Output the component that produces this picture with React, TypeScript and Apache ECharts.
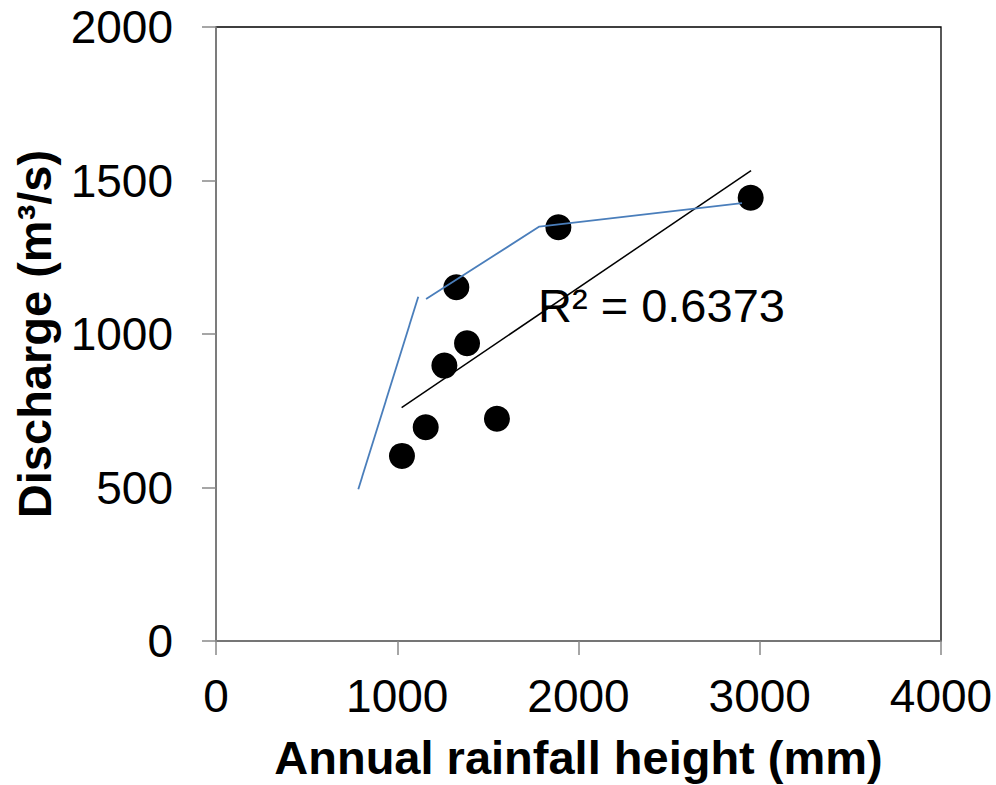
import React, { useEffect, useRef } from "react";
import * as echarts from "echarts";

const rainfall = [1026, 1157, 1260, 1326, 1385, 1550, 1889, 2950];
const discharge = [603, 696, 897, 1152, 970, 724, 1348, 1444];

const curveAX = [785, 1116];
const curveAY = [494, 1121];
const curveBX = [1159, 1784, 2902];
const curveBY = [1114, 1350, 1426];

const trendX = [1024, 2952];
const trendY = [760, 1532];

const xTicks = [0, 1000, 2000, 3000, 4000];
const yTicks = [0, 500, 1000, 1500, 2000];
const r2Label = "R² = 0.6373";

const FONT = '"Liberation Sans", Arial, sans-serif';
const AXIS_GRAY = "#898989";
const BLUE = "#4a7ebb";

const zip = (xs: number[], ys: number[]) => xs.map((x, i) => [x, ys[i]]);

export default function App() {
  const ref = useRef<HTMLDivElement>(null);
  useEffect(() => {
    if (!ref.current) return;
    const chart = echarts.init(ref.current, undefined, { renderer: "svg" });
    chart.setOption({
      animation: false,
      backgroundColor: "#ffffff",
      grid: {
        left: 216,
        top: 27,
        right: 55,
        bottom: 144,
        containLabel: false,
        outerBoundsMode: "none",
        show: true,
        borderColor: "#000000",
        borderWidth: 1.3,
        backgroundColor: "transparent",
      },
      xAxis: {
        type: "value",
        min: xTicks[0],
        max: xTicks[xTicks.length - 1],
        interval: 1000,
        name: "Annual rainfall height (mm)",
        nameLocation: "middle",
        nameGap: 93,
        nameTextStyle: {
          fontFamily: FONT,
          fontSize: 47,
          fontWeight: "bold",
          color: "#000",
          lineHeight: 47,
        },
        axisLine: { show: true, lineStyle: { color: AXIS_GRAY, width: 1.5 } },
        axisTick: { show: true, inside: false, length: 14, lineStyle: { color: AXIS_GRAY, width: 1.5 } },
        axisLabel: {
          fontFamily: FONT,
          fontSize: 46,
          color: "#000",
          margin: 32,
          formatter: (v: number) => String(v),
        },
        splitLine: { show: false },
      },
      yAxis: {
        type: "value",
        min: yTicks[0],
        max: yTicks[yTicks.length - 1],
        interval: 500,
        name: "Discharge (m³/s)",
        nameLocation: "middle",
        nameGap: 158,
        nameRotate: 90,
        nameTextStyle: { fontFamily: FONT, fontSize: 47, fontWeight: "bold", color: "#000" },
        axisLine: { show: true, lineStyle: { color: AXIS_GRAY, width: 1.5 } },
        axisTick: { show: true, inside: false, length: 14, lineStyle: { color: AXIS_GRAY, width: 1.5 } },
        axisLabel: {
          fontFamily: FONT,
          fontSize: 46,
          color: "#000",
          margin: 43,
          formatter: (v: number) => String(v),
        },
        splitLine: { show: false },
      },
      series: [
        {
          type: "scatter",
          data: zip(rainfall, discharge),
          symbol: "circle",
          symbolSize: 26,
          itemStyle: { color: "#000000", opacity: 1 },
          z: 2,
        },
        {
          type: "line",
          data: zip(trendX, trendY),
          symbol: "none",
          lineStyle: { color: "#000000", width: 1.5 },
          z: 3,
        },
        {
          type: "line",
          data: zip(curveAX, curveAY),
          symbol: "none",
          lineStyle: { color: BLUE, width: 1.8 },
          z: 4,
        },
        {
          type: "line",
          data: zip(curveBX, curveBY),
          symbol: "none",
          lineStyle: { color: BLUE, width: 1.8 },
          z: 4,
        },
      ],
      graphic: [
        {
          type: "text",
          left: 538,
          top: 282,
          z: 10,
          style: {
            text: r2Label,
            fontFamily: FONT,
            fontSize: 47,
            fill: "#000",
          },
        },
      ],
    });
    return () => chart.dispose();
  }, []);
  return (
    <div
      ref={ref}
      style={{ position: "fixed", left: 0, top: 0, width: 996, height: 785, background: "#fff" }}
    />
  );
}
